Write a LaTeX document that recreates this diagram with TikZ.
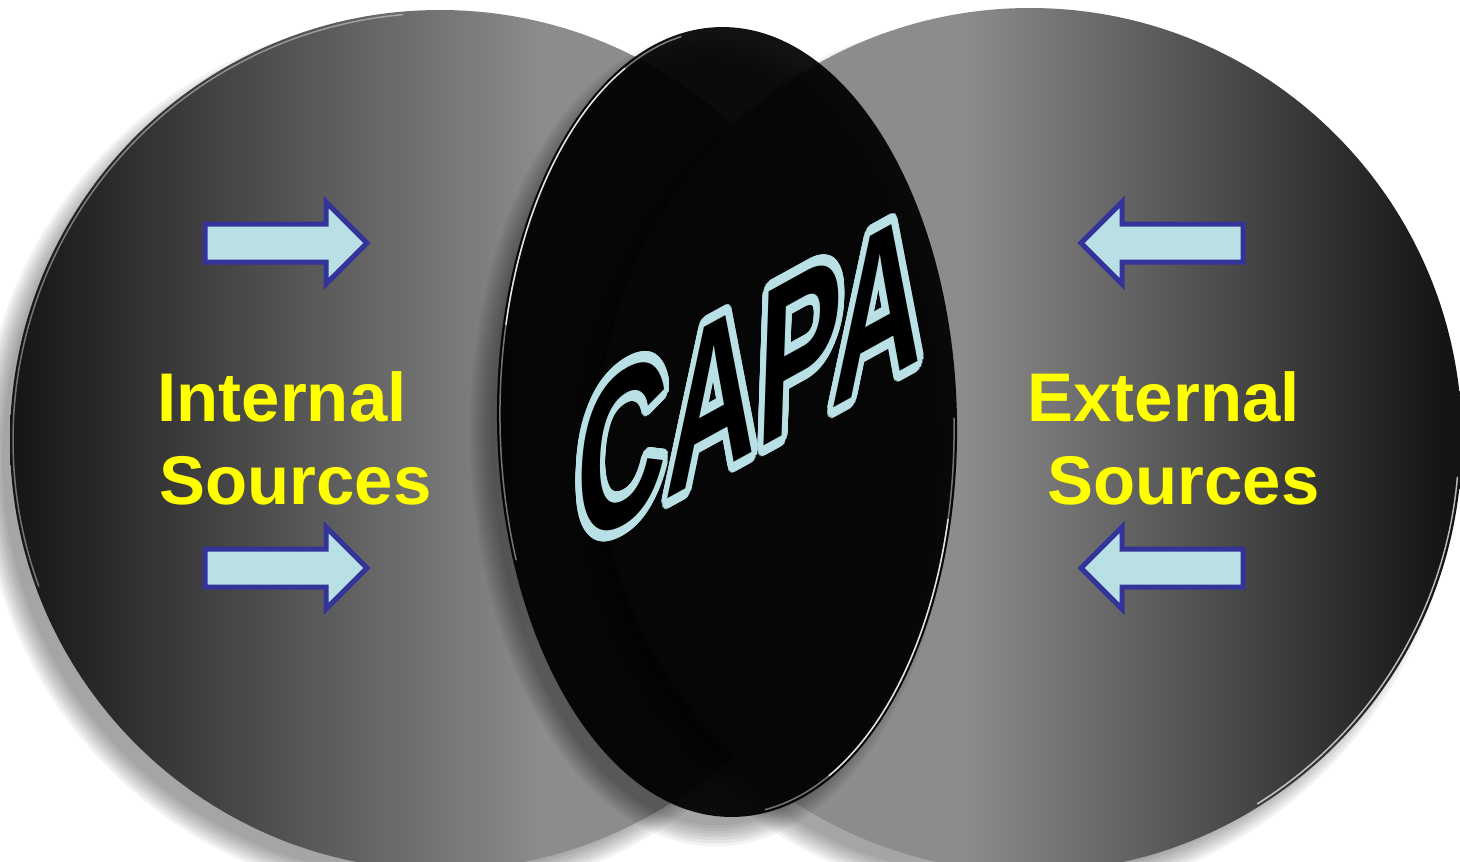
\documentclass[tikz,border=0pt]{standalone}
\usepackage{fontspec}
\setmainfont{Liberation Sans}
\usepackage{contour}
\contourlength{1.7pt}
\contournumber{40}

\definecolor{arrowfill}{RGB}{185,224,228}
\definecolor{arrowline}{RGB}{51,51,153}
\definecolor{srcyellow}{RGB}{255,255,0}
\definecolor{capaline}{RGB}{185,224,228}

\pgfdeclarehorizontalshading{leftdisc}{100bp}{rgb(0bp)=(.08,.08,.08); rgb(25bp)=(.08,.08,.08); rgb(56bp)=(.55,.55,.55); rgb(100bp)=(.55,.55,.55)}
\pgfdeclarehorizontalshading{rightdisc}{100bp}{rgb(0bp)=(.55,.55,.55); rgb(46bp)=(.55,.55,.55); rgb(74bp)=(.08,.08,.08); rgb(100bp)=(.08,.08,.08)}

\begin{document}
\begin{tikzpicture}[x=0.1mm, y=0.1mm,
	srctext/.style={anchor=base west, inner sep=0, text=srcyellow, font=\fontsize{19.6pt}{23pt}\selectfont\bfseries},
	rimline/.style={white, line width=0.15mm, line cap=round},
	softshadow/.style={black, opacity=0.052},
	blockarrow/.pic={\draw[fill=arrowfill, draw=arrowline, line width=0.5mm] (0,-19) -- (121,-19) -- (121,-41) -- (162,0) -- (121,41) -- (121,19) -- (0,19) -- cycle;}]
		\useasboundingbox (0,0) rectangle (1460,861);
		\fill[white] (0,0) rectangle (1460,861);
		\clip (0,0) rectangle (1460,861);

		\foreach \k in {1,...,8}
			\fill[softshadow] (422,403) circle[radius={444-3*\k}];
		\shade[shading=leftdisc] (440,421) circle[radius=430];
		\draw[rimline, opacity=0.4] ([shift={(440,421)}]95:427) arc[start angle=95, end angle=200, radius=427];

		\foreach \k in {1,...,8}
			\fill[softshadow] (1012,403) circle[radius={446-3*\k}];
		\shade[shading=rightdisc] (1030,421) circle[radius=432];
		\draw[rimline, opacity=0.7] ([shift={(1030,421)}]-5:429) arc[start angle=-5, end angle=-58, radius=429];

		\begin{scope}[shift={(727,439)}, rotate=1]
			\foreach \k in {1,...,8}
				\fill[softshadow] (-16,-18) ellipse[x radius={244-3*\k}, y radius={409-3*\k}];
			\fill[black, fill opacity=0.93] (0,0) ellipse[x radius=230, y radius=395];
			\draw[rimline, opacity=0.45] (100:227 and 392) arc[start angle=100, end angle=200, x radius=227, y radius=392];
			\draw[rimline, opacity=0.8] (115:227 and 392) arc[start angle=115, end angle=165, x radius=227, y radius=392];
			\draw[rimline, opacity=0.45] (0:227 and 392) arc[start angle=0, end angle=-82, x radius=227, y radius=392];
			\draw[rimline, opacity=0.8] (-15:227 and 392) arc[start angle=-15, end angle=-65, x radius=227, y radius=392];
		\end{scope}

		\pic (inup) at (205,618) {blockarrow};
		\pic (indown) at (205,293) {blockarrow};
		\pic[xscale=-1] (exup) at (1243,618) {blockarrow};
		\pic[xscale=-1] (exdown) at (1243,293) {blockarrow};

		\node[srctext] (intop) at (157,440) {Internal};
		\node[srctext] (intbot) at (159,357) {Sources};
		\node[srctext] (extop) at (1027,440) {External};
		\node[srctext] (extbot) at (1047,357) {Sources};

		\node[text=black, inner sep=0, font=\fontsize{35.8pt}{40pt}\selectfont\bfseries, cm={1,0.55,0.06,1.78,(0,0)}] (capa) at (750,478) {\contour{capaline}{CAPA}};
	\end{tikzpicture}
\end{document}
